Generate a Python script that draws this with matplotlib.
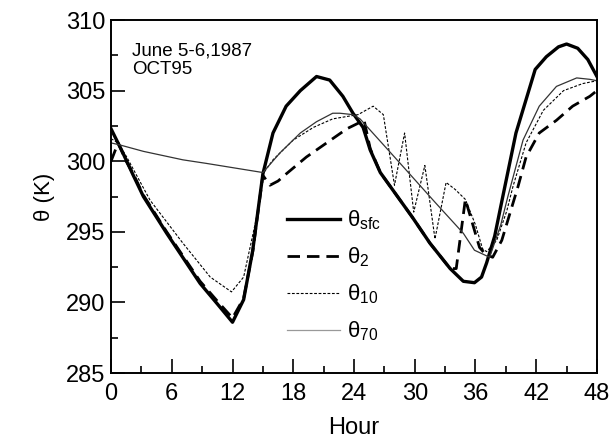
import numpy as np
import matplotlib
matplotlib.use('Agg')
import matplotlib.pyplot as plt
from matplotlib.ticker import MultipleLocator

plt.rcParams['font.family'] = ['Liberation Sans', 'DejaVu Sans']
plt.rcParams['mathtext.fontset'] = 'custom'
plt.rcParams['mathtext.rm'] = 'Liberation Sans'

# theta_sfc
jam_sfc = [0, 1.1, 2.2, 3.2, 5.5, 8.8, 10.5, 12.0, 13.1, 14.0, 15.0, 16.0, 17.3, 18.7,
           20.3, 21.6, 22.9, 23.9, 24.9, 25.6, 26.6, 28.2, 29.8, 31.5, 33.5, 34.8,
           35.9, 36.6, 37.1, 37.9, 38.7, 40.0, 41.9, 43.0, 44.2, 45.0, 46.1, 47.1, 48]
th_sfc = [302.3, 300.7, 299.0, 297.5, 294.9, 291.35, 289.9, 288.6, 290.2, 293.7, 299.1,
          302.0, 303.9, 305.0, 306.0, 305.75, 304.6, 303.4, 302.4, 300.8, 299.2, 297.6,
          296.0, 294.2, 292.4, 291.5, 291.4, 291.8, 292.8, 294.7, 297.5, 302.0, 306.5,
          307.4, 308.1, 308.3, 308.0, 307.2, 306.0]

# theta_2
jam_2 = [0, 0.7, 1.5, 2.2, 3.2, 5.5, 8.8, 10.5, 12.0, 13.1, 14.0, 15.0, 15.7, 16.5,
         17.3, 19.3, 21.3, 23.3, 25.0, 25.6, 26.6, 28.2, 29.8, 31.5, 33.5, 34.1, 35.0,
         36.4, 37.0, 37.7, 38.6, 39.4, 40.2, 41.0, 42.3, 44.0, 45.6, 47.3, 48]
th_2 = [300.0, 301.3, 300.0, 299.1, 297.6, 295.0, 291.5, 290.1, 288.9, 290.3, 293.6,
        299.0, 298.3, 298.6, 299.1, 300.3, 301.3, 302.3, 302.9, 300.9, 299.2, 297.6,
        296.0, 294.2, 292.4, 292.4, 297.3, 293.9, 293.4, 293.2, 294.4, 296.3, 298.2,
        300.3, 302.0, 302.9, 303.9, 304.6, 305.0]

# theta_10
jam_10 = [0, 0.7, 1.55, 3.85, 7.1, 9.8, 11.9, 13.1, 14.4, 15.0, 16.0, 18.0, 20.0, 21.9,
          24.4, 25.9, 26.9, 28.0, 29.0, 29.9, 31.0, 32.0, 33.1, 34.0, 35.0, 36.0, 36.7,
          37.1, 38.1, 39.1, 39.7, 41.0, 42.7, 44.7, 46.6, 48]
th_10 = [301.6, 301.3, 300.3, 297.25, 294.2, 291.8, 290.75, 291.8, 296.1, 299.1, 300.1,
         301.5, 302.4, 303.0, 303.3, 303.9, 303.3, 298.3, 302.0, 296.4, 299.7, 294.5,
         298.5, 298.0, 297.3, 295.5, 293.8, 293.6, 294.4, 296.5, 298.2, 301.3, 303.6,
         305.0, 305.5, 305.7]

# theta_70
jam_70 = [0, 0.9, 3.2, 7.1, 9.4, 15.0, 16.7, 18.7, 20.3, 21.9, 22.6, 23.9, 24.6, 28.0,
          32.0, 34.8, 35.9, 36.8, 37.4, 38.5, 39.2, 40.7, 42.3, 44.0, 46.0, 47.3, 48]
th_70 = [301.3, 301.15, 300.7, 300.1, 299.85, 299.2, 300.6, 302.0, 302.8, 303.4, 303.4,
         303.3, 303.0, 300.3, 297.1, 294.9, 293.7, 293.4, 293.2, 295.5, 297.5, 301.5,
         303.9, 305.3, 305.9, 305.8, 305.7]

fig = plt.figure(figsize=(6.11, 4.41), dpi=100)
ax = fig.add_axes([0.1817, 0.154, 0.7953, 0.8006])

ax.plot(jam_sfc, th_sfc, color='black', lw=2.4, label=r'$\mathregular{θ_{sfc}}$')
ax.plot(jam_2, th_2, color='black', lw=2.0, dashes=(4.5, 2.5), label=r'$\mathregular{θ_{2}}$')
ax.plot(jam_10, th_10, color='black', lw=0.8, dashes=(2.5, 1.5), label=r'$\mathregular{θ_{10}}$')
ax.plot(jam_70, th_70, color='#333333', lw=0.9, label=r'$\mathregular{θ_{70}}$')

ax.set_xlim(0, 48)
ax.set_ylim(285, 310)
ax.xaxis.set_major_locator(MultipleLocator(6))
ax.xaxis.set_minor_locator(MultipleLocator(3))
ax.yaxis.set_major_locator(MultipleLocator(5))
ax.yaxis.set_minor_locator(MultipleLocator(2.5))
ax.tick_params(which='both', direction='in', top=False, right=False, width=1.2)
ax.tick_params(which='major', length=10, labelsize=17)
ax.tick_params(axis='x', which='major', pad=7)
ax.tick_params(axis='y', which='major', pad=4)
ax.tick_params(which='minor', length=5)
for s in ax.spines.values():
    s.set_linewidth(1.4)

ax.set_xlabel('Hour', fontsize=17, labelpad=9)
ax.set_ylabel('θ (K)', fontsize=16, labelpad=8)

ax.text(0.043, 0.935, 'June 5-6,1987\nOCT95', transform=ax.transAxes, fontsize=13.5,
        va='top', ha='left', linespacing=1.05)

leg = ax.legend(loc='upper left', bbox_to_anchor=(0.33, 0.51), frameon=False,
                fontsize=16, handlelength=2.4, labelspacing=0.6, handletextpad=0.3,
                borderpad=0.2)
leg.get_lines()[3].set_color('#999999')

fig.savefig('out.png', dpi=100)
